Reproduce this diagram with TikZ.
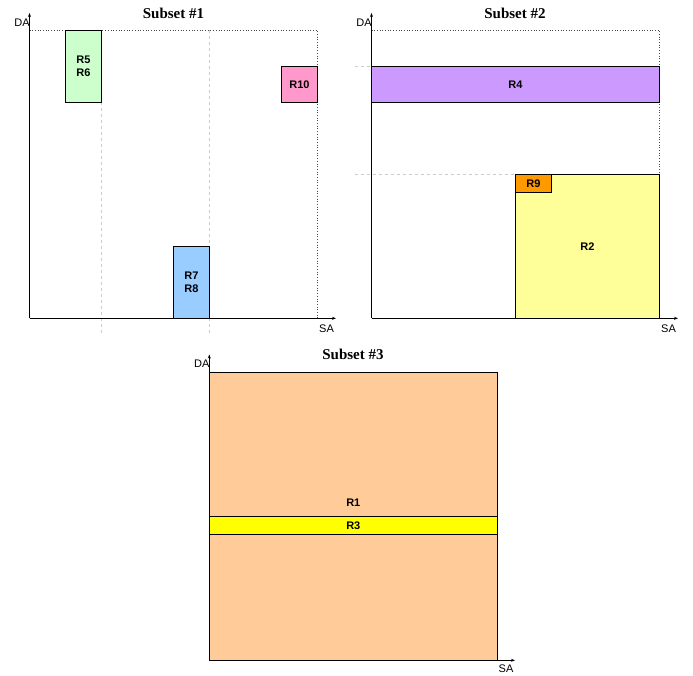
\documentclass[tikz,border=0pt]{standalone}
\usepackage{fontspec}
\setmainfont{Liberation Serif}
\setsansfont{Liberation Sans}
\usetikzlibrary{arrows.meta}
\definecolor{cgreen}{HTML}{CCFFCC}
\definecolor{cpink}{HTML}{FF99CC}
\definecolor{cblue}{HTML}{99CCFF}
\definecolor{cpurple}{HTML}{CC99FF}
\definecolor{cyellowl}{HTML}{FFFF99}
\definecolor{corange}{HTML}{FF9900}
\definecolor{cpeach}{HTML}{FFCC99}
\definecolor{cyellow}{HTML}{FFFF00}
\tikzset{
  region/.style={draw=black, line width=0.9pt, inner sep=0pt, outer sep=0pt, anchor=north west,
    align=center, font=\sffamily\bfseries\fontsize{11}{13.5}\selectfont},
  rlabel/.style={inner sep=0pt, font=\sffamily\bfseries\fontsize{11}{13.5}\selectfont},
  axis/.style={line width=0.9pt, -{Stealth[length=4pt,width=3pt]}},
  axlabel/.style={inner sep=0pt, font=\sffamily\fontsize{11}{13}\selectfont},
  title/.style={inner sep=0pt, font=\rmfamily\bfseries\fontsize{15}{17}\selectfont},
  guide/.style={draw=black!20, dashed, line width=0.6pt},
  frame/.style={draw=black!70, dotted, line width=0.7pt}
}
\begin{document}
\begin{tikzpicture}[x=1pt,y=-1pt]
\useasboundingbox (0,0) rectangle (693,675);
% ---------- Subset #1 ----------
\node[title] (t1) at (173.5,13) {Subset \#1};
\coordinate (o1) at (29.5,318.3);
\coordinate (y1) at (29.5,13);
\coordinate (x1) at (336,318.3);
\coordinate (c1a) at (29.5,30.3);
\coordinate (c1b) at (317.5,30.3);
\coordinate (c1c) at (317.5,318.3);
\draw[guide] (101.5,30.3) -- (101.5,336);
\draw[guide] (209.5,30.3) -- (209.5,336);
\draw[frame] (c1a) -- (c1b) -- (c1c);
\node[region, fill=cgreen, minimum width=36pt, minimum height=72pt] (r56) at (65.5,30.3) {R5\\R6};
\node[region, fill=cpink, minimum width=36pt, minimum height=36pt] (r10) at (281.5,66.3) {R10};
\node[region, fill=cblue, minimum width=36pt, minimum height=72pt] (r78) at (173.5,246.3) {R7\\R8};
\draw[axis] (o1) -- (y1);
\draw[axis] (o1) -- (x1);
\node[axlabel, anchor=east] (da1) at (29.8,22.5) {DA};
\node[axlabel] (sa1) at (326.5,328.5) {SA};
% ---------- Subset #2 ----------
\node[title] (t2) at (515,13) {Subset \#2};
\coordinate (o2) at (371.5,318.3);
\coordinate (y2) at (371.5,13);
\coordinate (x2) at (678,318.3);
\coordinate (c2a) at (371.5,30.3);
\coordinate (c2b) at (659.5,30.3);
\coordinate (c2c) at (659.5,318.3);
\draw[guide] (355,66.3) -- (371.5,66.3);
\draw[guide] (355,174.3) -- (515.5,174.3);
\draw[frame] (c2a) -- (c2b) -- (c2c);
\node[region, fill=cpurple, minimum width=288pt, minimum height=36pt] (r4) at (371.5,66.3) {R4};
\node[region, fill=cyellowl, minimum width=144pt, minimum height=144pt] (r2) at (515.5,174.3) {R2};
\node[region, fill=corange, minimum width=36pt, minimum height=18pt] (r9) at (515.5,174.3) {R9};
\draw[axis] (o2) -- (y2);
\draw[axis] (o2) -- (x2);
\node[axlabel, anchor=east] (da2) at (371.8,22.5) {DA};
\node[axlabel] (sa2) at (668.5,328.5) {SA};
% ---------- Subset #3 ----------
\node[title] (t3) at (353,354.5) {Subset \#3};
\coordinate (o3) at (209.3,660.3);
\coordinate (y3) at (209.3,354.5);
\coordinate (x3) at (515,660.3);
\node[region, fill=cpeach, minimum width=288pt, minimum height=288pt] (r1) at (209.3,372.3) {};
\node[region, fill=cyellow, minimum width=288pt, minimum height=18pt] (r3) at (209.3,516.3) {R3};
\node[rlabel] (r1l) at (353.3,503) {R1};
\draw[axis] (o3) -- (y3);
\draw[axis] (o3) -- (x3);
\node[axlabel, anchor=east] (da3) at (209.6,364) {DA};
\node[axlabel] (sa3) at (506,668.5) {SA};
\end{tikzpicture}
\end{document}
